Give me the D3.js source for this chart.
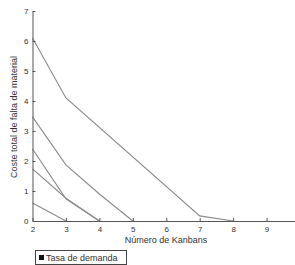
<!DOCTYPE HTML>
<html>
<head>
  <meta charset="utf-8">
  <title>d3</title>
  <script src="https://d3js.org/d3.v7.min.js"></script>
  <style>
    body { margin: 0; background: #fff; }
    text { font-family: "Liberation Sans", Arial, sans-serif; fill: #333; }
  </style>
</head>
<body>
  <script>
    const xTicks = [2, 3, 4, 5, 6, 7, 8, 9];
    const yTicks = [0, 1, 2, 3, 4, 5, 6, 7];

    // cada curva: número de kanbans y coste
    const s1x = [2, 3, 7, 8];
    const s1y = [6.1, 4.1, 0.17, 0];
    const s2x = [2, 3, 4, 5];
    const s2y = [3.47, 1.87, 0.9, 0];
    const s3x = [2, 3, 4];
    const s3y = [2.4, 0.74, 0];
    const s4x = [2, 3, 4];
    const s4y = [1.74, 0.76, 0];
    const s5x = [2, 3];
    const s5y = [0.6, 0];

    const series = [[s1x, s1y], [s2x, s2y], [s3x, s3y], [s4x, s4y], [s5x, s5y]]
      .map(([xs, ys]) => xs.map((x, i) => ({ x: x, y: ys[i] })));

    const svg = d3.select('body').append('svg')
      .attr('width', 295)
      .attr('height', 265);

    const x = d3.scaleLinear().domain([2, 10]).range([32.5, 300]);
    const y = d3.scaleLinear().domain([0, 7]).range([221, 11]);

    const line = d3.line().x(d => x(d.x)).y(d => y(d.y));

    svg.selectAll('path.serie')
      .data(series)
      .enter()
      .append('path')
      .attr('class', 'serie')
      .attr('d', line)
      .attr('fill', 'none')
      .attr('stroke', '#8a8a8a')
      .attr('stroke-width', 1.1);

    // ejes con marcas hacia dentro
    const xAxis = svg.append('g')
      .attr('transform', `translate(0,${y(0)})`)
      .call(d3.axisBottom(x).tickValues(xTicks).tickFormat(d3.format('d'))
        .tickSizeInner(-3).tickSizeOuter(0).tickPadding(5));
    const yAxis = svg.append('g')
      .attr('transform', `translate(${x(2)},0)`)
      .call(d3.axisLeft(y).tickValues(yTicks).tickFormat(d3.format('d'))
        .tickSizeInner(-3).tickSizeOuter(0).tickPadding(4));

    [xAxis, yAxis].forEach(g => {
      g.select('.domain').attr('stroke', '#555');
      g.selectAll('.tick line').attr('stroke', '#555');
      g.selectAll('.tick text').attr('font-size', 8).attr('fill', '#444');
    });

    svg.append('text')
      .attr('x', 166)
      .attr('y', 243)
      .attr('text-anchor', 'middle')
      .attr('font-size', 9)
      .text('Número de Kanbans');

    svg.append('text')
      .attr('transform', 'translate(17,117) rotate(-90)')
      .attr('text-anchor', 'middle')
      .attr('font-size', 9)
      .text('Coste total de falta de material');

    // leyenda
    const leg = svg.append('g');
    leg.append('rect')
      .attr('x', 35.5).attr('y', 250.5)
      .attr('width', 91).attr('height', 14)
      .attr('fill', '#fff')
      .attr('stroke', '#444');
    leg.append('rect')
      .attr('x', 39).attr('y', 255)
      .attr('width', 5).attr('height', 5)
      .attr('fill', '#111');
    leg.append('text')
      .attr('x', 46).attr('y', 261)
      .attr('font-size', 9)
      .text('Tasa de demanda');
  </script>
</body>
</html>
